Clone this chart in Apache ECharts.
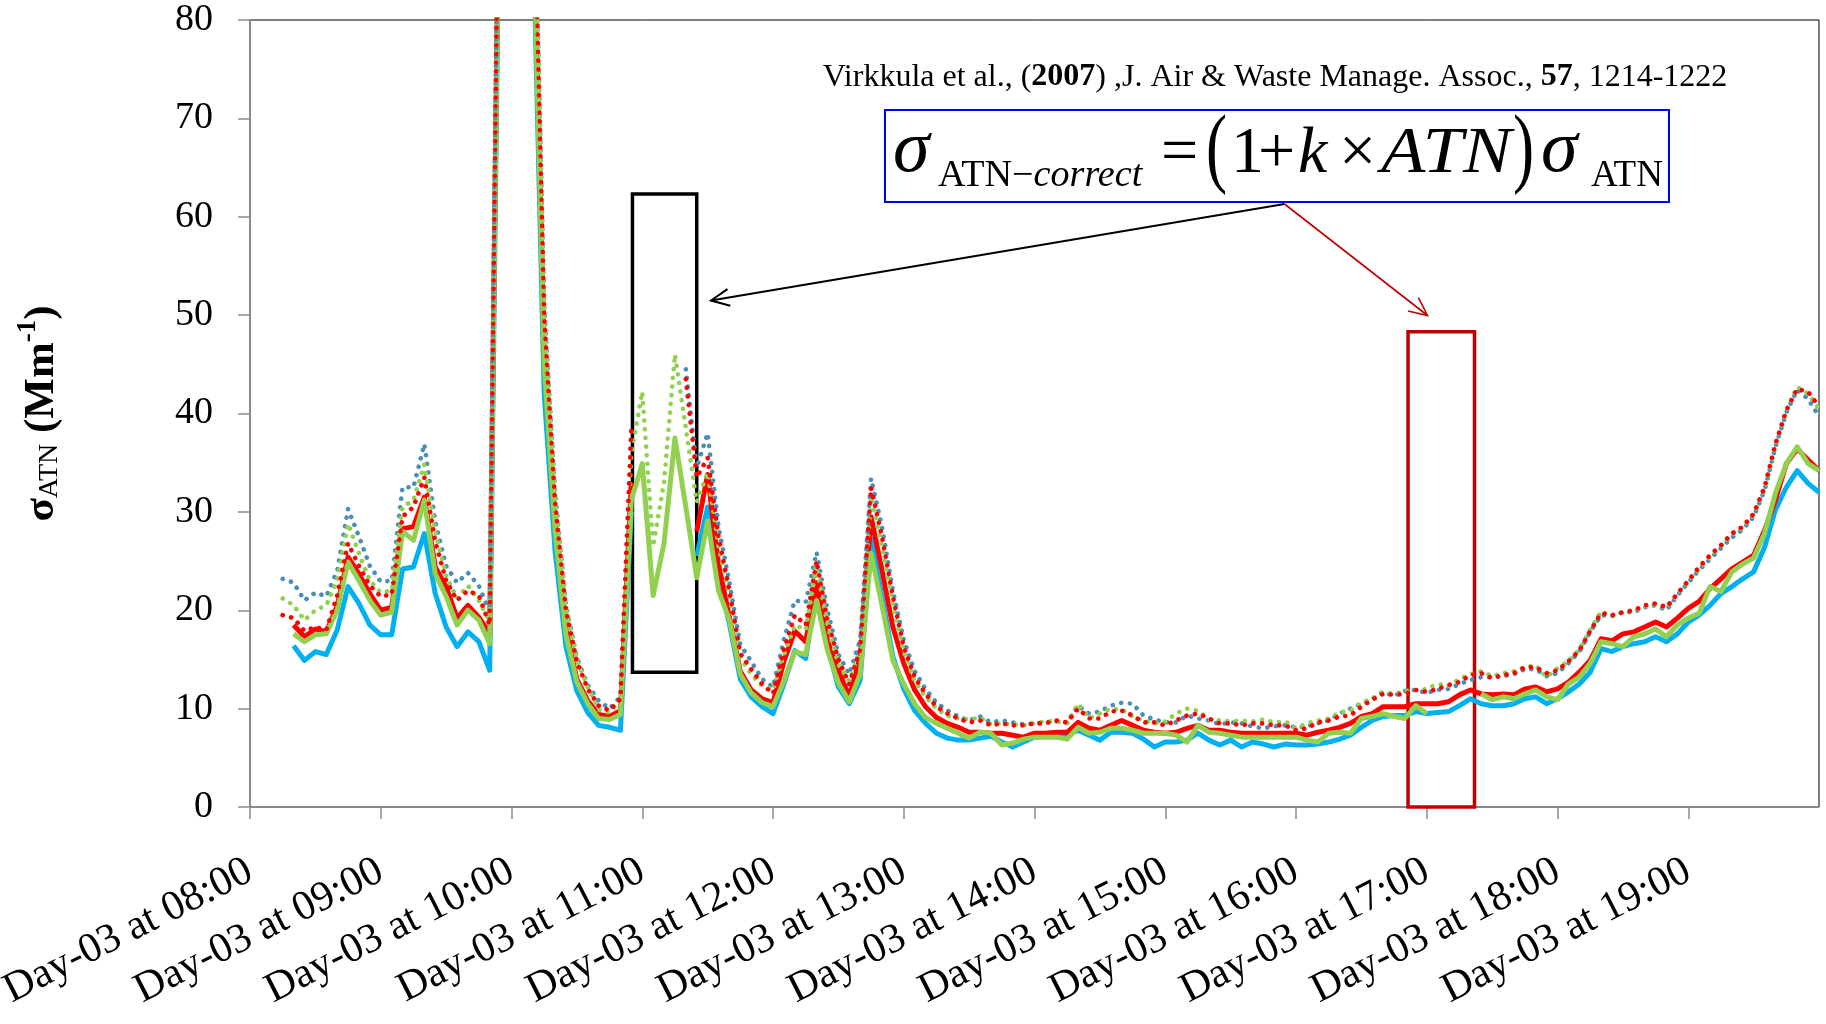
<!DOCTYPE html>
<html>
<head>
<meta charset="utf-8">
<script src="https://cdn.jsdelivr.net/npm/echarts@6/dist/echarts.min.js"></script>
<style>
  html, body { margin: 0; padding: 0; background: #ffffff; }
  #chart { width: 1826px; height: 1024px; }
</style>
</head>
<body>
<div id="chart"></div>
<script>
// Time stamps of the 5-minute record, 08:00 to 20:00 on Day-03
const times = [];
for (let m = 0; m <= 720; m += 5) {
  const h = 8 + Math.floor(m / 60), mm = m % 60;
  times.push(String(h).padStart(2, '0') + ':' + String(mm).padStart(2, '0'));
}

// Hour tick labels
const hourLabels = [
  'Day-03 at 08:00', 'Day-03 at 09:00', 'Day-03 at 10:00', 'Day-03 at 11:00',
  'Day-03 at 12:00', 'Day-03 at 13:00', 'Day-03 at 14:00', 'Day-03 at 15:00',
  'Day-03 at 16:00', 'Day-03 at 17:00', 'Day-03 at 18:00', 'Day-03 at 19:00'
];
const yTicks = [0, 10, 20, 30, 40, 50, 60, 70, 80];

// Uncorrected attenuation coefficients (dotted), one row per hour
const rawBlue = [
  null, null, null, 23.2, 22.8, 21.0, 21.8, 21.4, 24.0, 30.3, 27.5, 24.5,
  22.9, 23.0, 32.5, 32.5, 36.9, 29.0, 24.5, 22.8, 23.8, 22.5, 19.8, 118,
  155, 145, 100, 51, 32, 20.5, 15.2, 12.4, 10.8, 10.0, 11.2, 38.5,
  null, null, null, null, 44.5, 34.5, 38.0, 28.5, 22.8, 16.5, 14.8, 13.0,
  12.2, 17.0, 21.0, 20.8, 25.9, 20.0, 15.5, 13.5, 17.0, 33.4, 28.5, 22.0,
  17.0, 13.8, 12.0, 10.6, 9.8, 9.2, 8.8, 9.2, 8.6, 8.8, 8.6, 8.4,
  8.5, 8.6, 8.7, 8.6, 10.3, 9.5, 9.7, 10.3, 10.6, 10.5, 9.3, 8.9,
  8.6, 8.6, 9.3, 9.0, 8.8, 8.4, 8.6, 8.5, 8.2, 8.0, 8.2, 8.3,
  8.1, 8.2, 8.5, 8.8, 9.5, 10.0, 10.5, 11.0, 11.7, 11.3, 11.8, 11.9,
  11.6, 11.9, 12.0, 12.5, 12.9, 13.2, 13.2, 13.3, 13.5, 14.0, 14.0, 13.3,
  13.6, 14.6, 15.8, 17.8, 19.5, 19.4, 19.8, 19.8, 20.3, 20.5, 20.0, 21.5,
  22.8, 24.1, 25.2, 26.3, 27.4, 28.2, 29.5, 32.2, 36.6, 40.1, 42.4, 41.5,
  39.7
];
const rawRed = [
  null, null, null, 19.5, 19.2, 17.9, 18.3, 18.0, 21.5, 26.8, 24.5, 22.5,
  21.4, 21.6, 29.5, 30.5, 33.5, 27.0, 23.0, 21.0, 22.0, 21.5, 18.5, 115,
  150, 140, 98, 50, 31, 20, 14.8, 12.0, 10.3, 9.8, 11.0, 38.3,
  null, null, null, null, 43.5, 33.5, 35.5, 27.5, 22.0, 15.6, 14.0, 12.5,
  11.5, 16.0, 19.5, 18.5, 25.0, 19.0, 15.0, 12.5, 16.0, 32.5, 27.5, 21.4,
  16.3, 13.2, 11.5, 10.2, 9.5, 9.0, 8.6, 8.8, 8.3, 8.5, 8.3, 8.3,
  8.5, 8.5, 8.8, 8.6, 10.0, 9.0, 9.0, 9.7, 9.8, 9.3, 8.6, 8.6,
  8.3, 8.8, 9.3, 9.5, 9.0, 8.5, 8.5, 8.3, 8.5, 8.5, 8.3, 8.3,
  7.8, 8.0, 8.6, 8.8, 9.2, 9.3, 10.2, 10.9, 11.5, 11.4, 11.5, 11.9,
  11.7, 12.0, 12.4, 12.7, 13.4, 13.6, 13.1, 13.4, 13.6, 14.2, 14.2, 13.6,
  13.9, 14.8, 15.9, 17.9, 19.7, 19.5, 19.8, 20.0, 20.5, 20.7, 20.3, 21.7,
  23.0, 24.4, 25.6, 26.6, 27.8, 28.5, 29.8, 32.5, 36.9, 40.3, 42.5, 42.2,
  40.7
];
const rawGreen = [
  null, null, null, 21.2, 20.5, 19.0, 20.0, 20.5, 23.0, 28.8, 25.8, 23.0,
  21.8, 22.0, 30.5, 31.2, 34.8, 28.0, 23.5, 21.2, 22.5, 21.0, 18.8, 116,
  152, 142, 99, 50, 31.5, 20.2, 15.0, 12.2, 9.9, 9.6, 10.8, 36.0,
  42.2, 26.5, 33.0, 46.0, 38.5, 31.0, 34.0, 26.5, 21.5, 15.2, 13.5, 12.3,
  11.9, 15.5, 18.5, 18.0, 24.5, 18.5, 14.5, 12.8, 16.0, 31.5, 26.5, 20.5,
  15.8, 12.8, 11.2, 10.0, 9.3, 9.0, 8.9, 9.1, 8.4, 8.5, 8.4, 8.3,
  8.5, 8.7, 8.7, 8.5, 10.5, 9.0, 9.5, 10.0, 9.9, 9.2, 8.8, 8.5,
  8.7, 9.5, 10.0, 9.8, 8.9, 8.8, 8.7, 8.8, 8.7, 8.9, 8.6, 8.7,
  8.0, 8.5, 8.8, 9.0, 9.6, 9.8, 10.6, 11.0, 11.7, 11.5, 11.8, 11.9,
  12.0, 12.5, 12.3, 13.0, 13.5, 13.8, 13.3, 13.6, 13.8, 14.2, 14.4, 13.2,
  14.1, 14.8, 16.0, 18.0, 19.9, 19.4, 19.8, 19.9, 20.4, 20.6, 20.2, 21.6,
  22.9, 24.2, 25.4, 26.5, 27.7, 28.4, 29.8, 32.3, 36.8, 40.3, 42.7, 42.0,
  40.5
];

// Loading-corrected attenuation coefficients (solid)
const corrBlue = [
  null, null, null, null, 16.4, 14.9, 15.8, 15.5, 18.0, 22.4, 20.7, 18.5,
  17.5, 17.5, 24.2, 24.4, 27.8, 21.7, 18.3, 16.3, 17.8, 16.8, 13.9, 105,
  140, 130, 88, 42, 26, 16.3, 11.8, 9.6, 8.3, 8.1, 7.8, 30.0,
  null, null, null, null, null, 25.5, 30.5, 23.4, 18.6, 13.0, 11.2, 10.2,
  9.5, 12.5, 15.9, 15.1, 22.4, 16.3, 12.2, 10.5, 12.9, 27.3, 21.4, 15.3,
  12.0, 9.8, 8.5, 7.5, 7.0, 6.8, 6.8, 7.0, 7.2, 6.6, 6.1, 6.6,
  7.1, 7.2, 7.3, 7.3, 7.8, 7.3, 6.8, 7.6, 7.6, 7.5, 6.9, 6.1,
  6.6, 6.6, 6.8, 7.5, 6.8, 6.3, 6.8, 6.1, 6.6, 6.4, 6.1, 6.4,
  6.3, 6.3, 6.4, 6.6, 6.9, 7.3, 8.1, 8.8, 9.2, 9.3, 9.3, 9.7,
  9.5, 9.6, 9.7, 10.3, 11.0, 10.5, 10.3, 10.3, 10.5, 11.0, 11.2, 10.5,
  11.0, 11.7, 12.5, 13.7, 16.1, 15.8, 16.3, 16.6, 16.8, 17.3, 16.8, 17.6,
  18.8, 19.5, 20.5, 21.7, 22.4, 23.2, 23.9, 26.4, 30.2, 32.5, 34.2, 32.9,
  32.0
];
const corrRed = [
  null, null, null, null, 18.5, 17.3, 18.1, 17.8, 20.4, 25.4, 23.7, 21.7,
  20.0, 20.3, 28.3, 28.5, 31.5, 24.4, 22.4, 19.2, 20.5, 19.3, 17.6, 110,
  145, 135, 92, 46, 28.5, 18.0, 13.0, 10.8, 9.4, 9.2, 9.8, 33.0,
  null, null, null, null, null, 28.0, 33.8, 24.7, 19.3, 13.8, 11.9, 11.0,
  10.6, 14.8, 17.9, 16.8, 22.8, 16.9, 13.9, 11.2, 15.3, 29.5, 24.1, 18.3,
  14.6, 11.9, 10.2, 9.1, 8.5, 8.1, 7.6, 7.6, 7.5, 7.5, 7.3, 7.1,
  7.5, 7.5, 7.6, 7.6, 8.6, 8.0, 7.8, 8.3, 8.8, 8.3, 7.8, 7.6,
  7.5, 7.6, 8.0, 8.3, 7.8, 7.8, 7.6, 7.5, 7.5, 7.5, 7.5, 7.5,
  7.5, 7.3, 7.6, 7.8, 8.1, 8.5, 9.2, 9.5, 10.2, 10.2, 10.2, 10.5,
  10.5, 10.5, 10.7, 11.4, 11.9, 11.5, 11.4, 11.5, 11.4, 12.0, 12.2, 11.7,
  12.0, 12.7, 13.7, 14.9, 17.1, 16.9, 17.6, 17.8, 18.3, 18.8, 18.3, 19.2,
  20.2, 20.9, 22.2, 23.2, 24.2, 24.9, 25.6, 28.1, 31.2, 34.9, 36.4, 35.3,
  34.2
];
const corrGreen = [
  null, null, null, null, 17.6, 16.8, 17.5, 17.6, 20.0, 24.9, 23.0, 21.0,
  19.5, 19.8, 28.0, 27.1, 31.2, 23.7, 21.4, 18.5, 20.0, 19.0, 16.6, 108,
  142, 132, 90, 45, 28, 17.5, 12.7, 10.5, 9.0, 8.9, 9.4, 31.2,
  34.9, 21.5, 26.8, 37.5, 30.5, 23.3, 29.1, 22.0, 19.0, 13.5, 11.6, 10.6,
  10.2, 12.8, 15.8, 15.5, 21.0, 15.9, 12.6, 10.7, 13.5, 25.8, 20.5, 14.9,
  12.5, 10.5, 9.1, 8.5, 8.0, 7.5, 7.0, 7.6, 7.5, 6.3, 6.5, 6.9,
  7.1, 7.1, 7.1, 6.9, 8.1, 7.5, 7.6, 8.0, 8.0, 7.8, 7.5, 7.5,
  7.5, 7.3, 6.6, 8.3, 7.6, 7.5, 7.3, 7.1, 7.1, 7.1, 7.1, 7.1,
  7.1, 6.8, 6.6, 7.5, 7.6, 7.5, 9.0, 9.2, 9.5, 9.2, 9.0, 10.3,
  9.5, null, null, null, null, 11.5, 10.9, 11.2, 11.0, 11.5, 11.9, 11.2,
  10.9, 12.5, 13.2, 14.6, 16.8, 16.6, 16.3, 17.3, 17.6, 18.1, 17.3, 18.5,
  19.2, 19.7, 22.4, 21.9, 23.9, 24.7, 25.3, 27.8, 31.9, 34.9, 36.6, 34.9,
  34.2
];

// Highlighted periods: [start, end] as clock times, and the σ range they frame
const boxGreenOnly = { from: '10:55:30', to: '11:25:00', low: 13.7, high: 62.3 };
const boxGreenGap  = { from: '16:51:25', to: '17:21:55', low: 0, high: 48.3 };

const SERIF = '"Liberation Serif", "Times New Roman", serif';

function minutesOf(t) {
  const p = t.split(':').map(Number);
  return (p[0] - 8) * 60 + p[1] + (p[2] || 0) / 60;
}
function pairs(vals) {
  return vals.map((v, k) => [minutesOf(times[k]), v]);
}

function solid(name, vals, color) {
  return {
    name, type: 'line', data: pairs(vals), showSymbol: false, symbol: 'none',
    connectNulls: false, clip: true, animation: false,
    lineStyle: { color, width: 5, join: 'round' },
    emphasis: { disabled: true }
  };
}
function dotted(name, vals, color) {
  return {
    name, type: 'line', data: pairs(vals), showSymbol: false, symbol: 'none',
    connectNulls: false, clip: true, animation: false,
    lineStyle: { color, width: 4.6, type: [0.1, 8.6], cap: 'round', join: 'round' },
    emphasis: { disabled: true }
  };
}

const series = [
  solid('Corrected, blue', corrBlue, '#00B0F0'),
  solid('Corrected, red', corrRed, '#FF0000'),
  solid('Corrected, green', corrGreen, '#92D050'),
  dotted('Uncorrected, blue', rawBlue, '#4A8FB6'),
  dotted('Uncorrected, green', rawGreen, '#92D050'),
  dotted('Uncorrected, red', rawRed, '#FF0000')
];

function boxArea(b, color) {
  return [
    { xAxis: minutesOf(b.from), yAxis: b.high,
      itemStyle: { color: 'rgba(0,0,0,0)', borderColor: color, borderWidth: 3.5 } },
    { xAxis: minutesOf(b.to), yAxis: b.low }
  ];
}
series[0].markArea = {
  silent: true,
  label: { show: false },
  emphasis: { disabled: true },
  data: [boxArea(boxGreenOnly, '#000000'), boxArea(boxGreenGap, '#C00000')]
};

// ---- text helpers for the annotations ----
const measureCtx = document.createElement('canvas').getContext('2d');
function fontStr(size, italic, bold) {
  return (italic ? 'italic ' : '') + (bold ? 'bold ' : '') + size + 'px ' + SERIF;
}
function textW(str, size, italic, bold) {
  measureCtx.font = fontStr(size, italic, bold);
  return measureCtx.measureText(str).width;
}
// place a run of text so that its alphabetic baseline sits on `base`
function run(str, x, base, size, italic, bold, extra) {
  return Object.assign({
    type: 'text', x: x, y: base - 0.3375 * size, z: 100,
    style: {
      text: str, fill: '#000', align: 'left', verticalAlign: 'middle',
      fontFamily: SERIF, fontSize: size,
      fontStyle: italic ? 'italic' : 'normal',
      fontWeight: bold ? 'bold' : 'normal'
    }
  }, extra || {});
}
function arrow(x1, y1, x2, y2, color, width) {
  const a = Math.atan2(y2 - y1, x2 - x1), L = 20, th = 25 * Math.PI / 180;
  const p1 = [x2 - L * Math.cos(a - th), y2 - L * Math.sin(a - th)];
  const p2 = [x2 - L * Math.cos(a + th), y2 - L * Math.sin(a + th)];
  return [
    { type: 'line', z: 100, shape: { x1, y1, x2, y2 }, style: { stroke: color, lineWidth: width } },
    { type: 'polyline', z: 100, shape: { points: [p1, [x2, y2], p2] },
      style: { stroke: color, lineWidth: width, fill: null, lineJoin: 'miter' } }
  ];
}

// Equation: σ_ATN−correct = (1 + k × ATN) σ_ATN
const eq = [];
const B = 177, SB = 189;
eq.push({ type: 'rect', z: 99, shape: { x: 885, y: 110, width: 784, height: 92 },
  style: { fill: '#ffffff', stroke: '#0000FF', lineWidth: 2 } });
eq.push(run('σ', 893, B, 74, true));
let sx = 938;
const subScale = 1.03;
eq.push(run('ATN', sx, SB, 37, false, false, { scaleX: subScale })); sx += textW('ATN', 37) * subScale;
eq.push(run('−', sx, SB, 37, false, false, { scaleX: subScale })); sx += textW('−', 37) * subScale;
eq.push(run('correct', sx, SB, 37, true, false, { scaleX: subScale }));
eq.push(run('=', 1161, B, 66));
eq.push(run('(', 1206, B + 6, 88, false, false, { scaleX: 0.72 }));
eq.push(run('1', 1231, B, 66));
eq.push(run('+', 1258, B, 66));
eq.push(run('k', 1298, B, 66, true));
eq.push(run('×', 1339, B, 66));
eq.push(run('ATN', 1381, B, 66, true, false, { scaleX: 1.1 }));
eq.push(run(')', 1513, B + 6, 88, false, false, { scaleX: 0.72 }));
eq.push(run('σ', 1541, B, 74, true));
eq.push(run('ATN', 1591, SB, 37));

// Y-axis title σ_ATN (Mm^-1), laid out along a rotated baseline
const titleRuns = [
  { t: 'σ', s: 43, b: true, dy: 0 },
  { t: 'ATN', s: 28, b: false, dy: 3 },
  { t: ' (Mm', s: 43, b: true, dy: 0 },
  { t: '-1', s: 27, b: true, dy: -19 },
  { t: ')', s: 43, b: true, dy: 0 }
];
let total = 0;
titleRuns.forEach(r => { r.w = textW(r.t, r.s, false, r.b); total += r.w; });
let tx = -total / 2;
const titleChildren = titleRuns.map(r => {
  const el = run(r.t, tx, r.dy, r.s, false, r.b);
  tx += r.w;
  return el;
});

const citation = {
  type: 'text', x: 1275, y: 88 - 0.3375 * 32, z: 100,
  style: {
    text: '{n|Virkkula et al., (}{b|2007}{n|) ,J. Air & Waste Manage. Assoc., }{b|57}{n|, 1214-1222}',
    align: 'center', verticalAlign: 'middle', fill: '#000',
    fontFamily: SERIF, fontSize: 32,
    rich: {
      n: { fontFamily: SERIF, fontSize: 32, fontWeight: 'normal', fill: '#000' },
      b: { fontFamily: SERIF, fontSize: 32, fontWeight: 'bold', fill: '#000' }
    }
  }
};

const graphics = [].concat(
  eq,
  [citation],
  [{ type: 'group', x: 56, y: 413.5, rotation: Math.PI / 2, z: 100, children: titleChildren }],
  arrow(1284.5, 204, 711, 300.5, '#000000', 2),
  arrow(1284.5, 204, 1427.5, 315.5, '#C00000', 1.6)
);

const chart = echarts.init(document.getElementById('chart'), null, { renderer: 'canvas' });
chart.setOption({
  backgroundColor: '#ffffff',
  animation: false,
  grid: {
    left: 250, right: 7, top: 20, bottom: 217,
    show: true, borderColor: '#000000', borderWidth: 1,
    containLabel: false, outerBoundsMode: 'none'
  },
  xAxis: {
    type: 'value', min: 0, max: 720, interval: 60,
    axisLine: { show: true, onZero: false, lineStyle: { color: '#8C8C8C', width: 1.5 } },
    axisTick: { show: true, inside: false, length: 12, lineStyle: { color: '#8C8C8C', width: 1.5 } },
    splitLine: { show: false },
    axisLabel: {
      show: true, rotate: 27, margin: 62, showMaxLabel: false,
      color: '#000', fontFamily: SERIF, fontSize: 42,
      formatter: v => hourLabels[Math.round(v / 60)] || ''
    }
  },
  yAxis: {
    type: 'value', min: yTicks[0], max: yTicks[yTicks.length - 1], interval: 10,
    axisLine: { show: true, lineStyle: { color: '#8C8C8C', width: 1.5 } },
    axisTick: { show: true, inside: false, length: 12, lineStyle: { color: '#8C8C8C', width: 1.5 } },
    splitLine: { show: false },
    axisLabel: { margin: 37, color: '#000', fontFamily: SERIF, fontSize: 38 }
  },
  series: series,
  graphic: graphics
});
</script>
</body>
</html>
